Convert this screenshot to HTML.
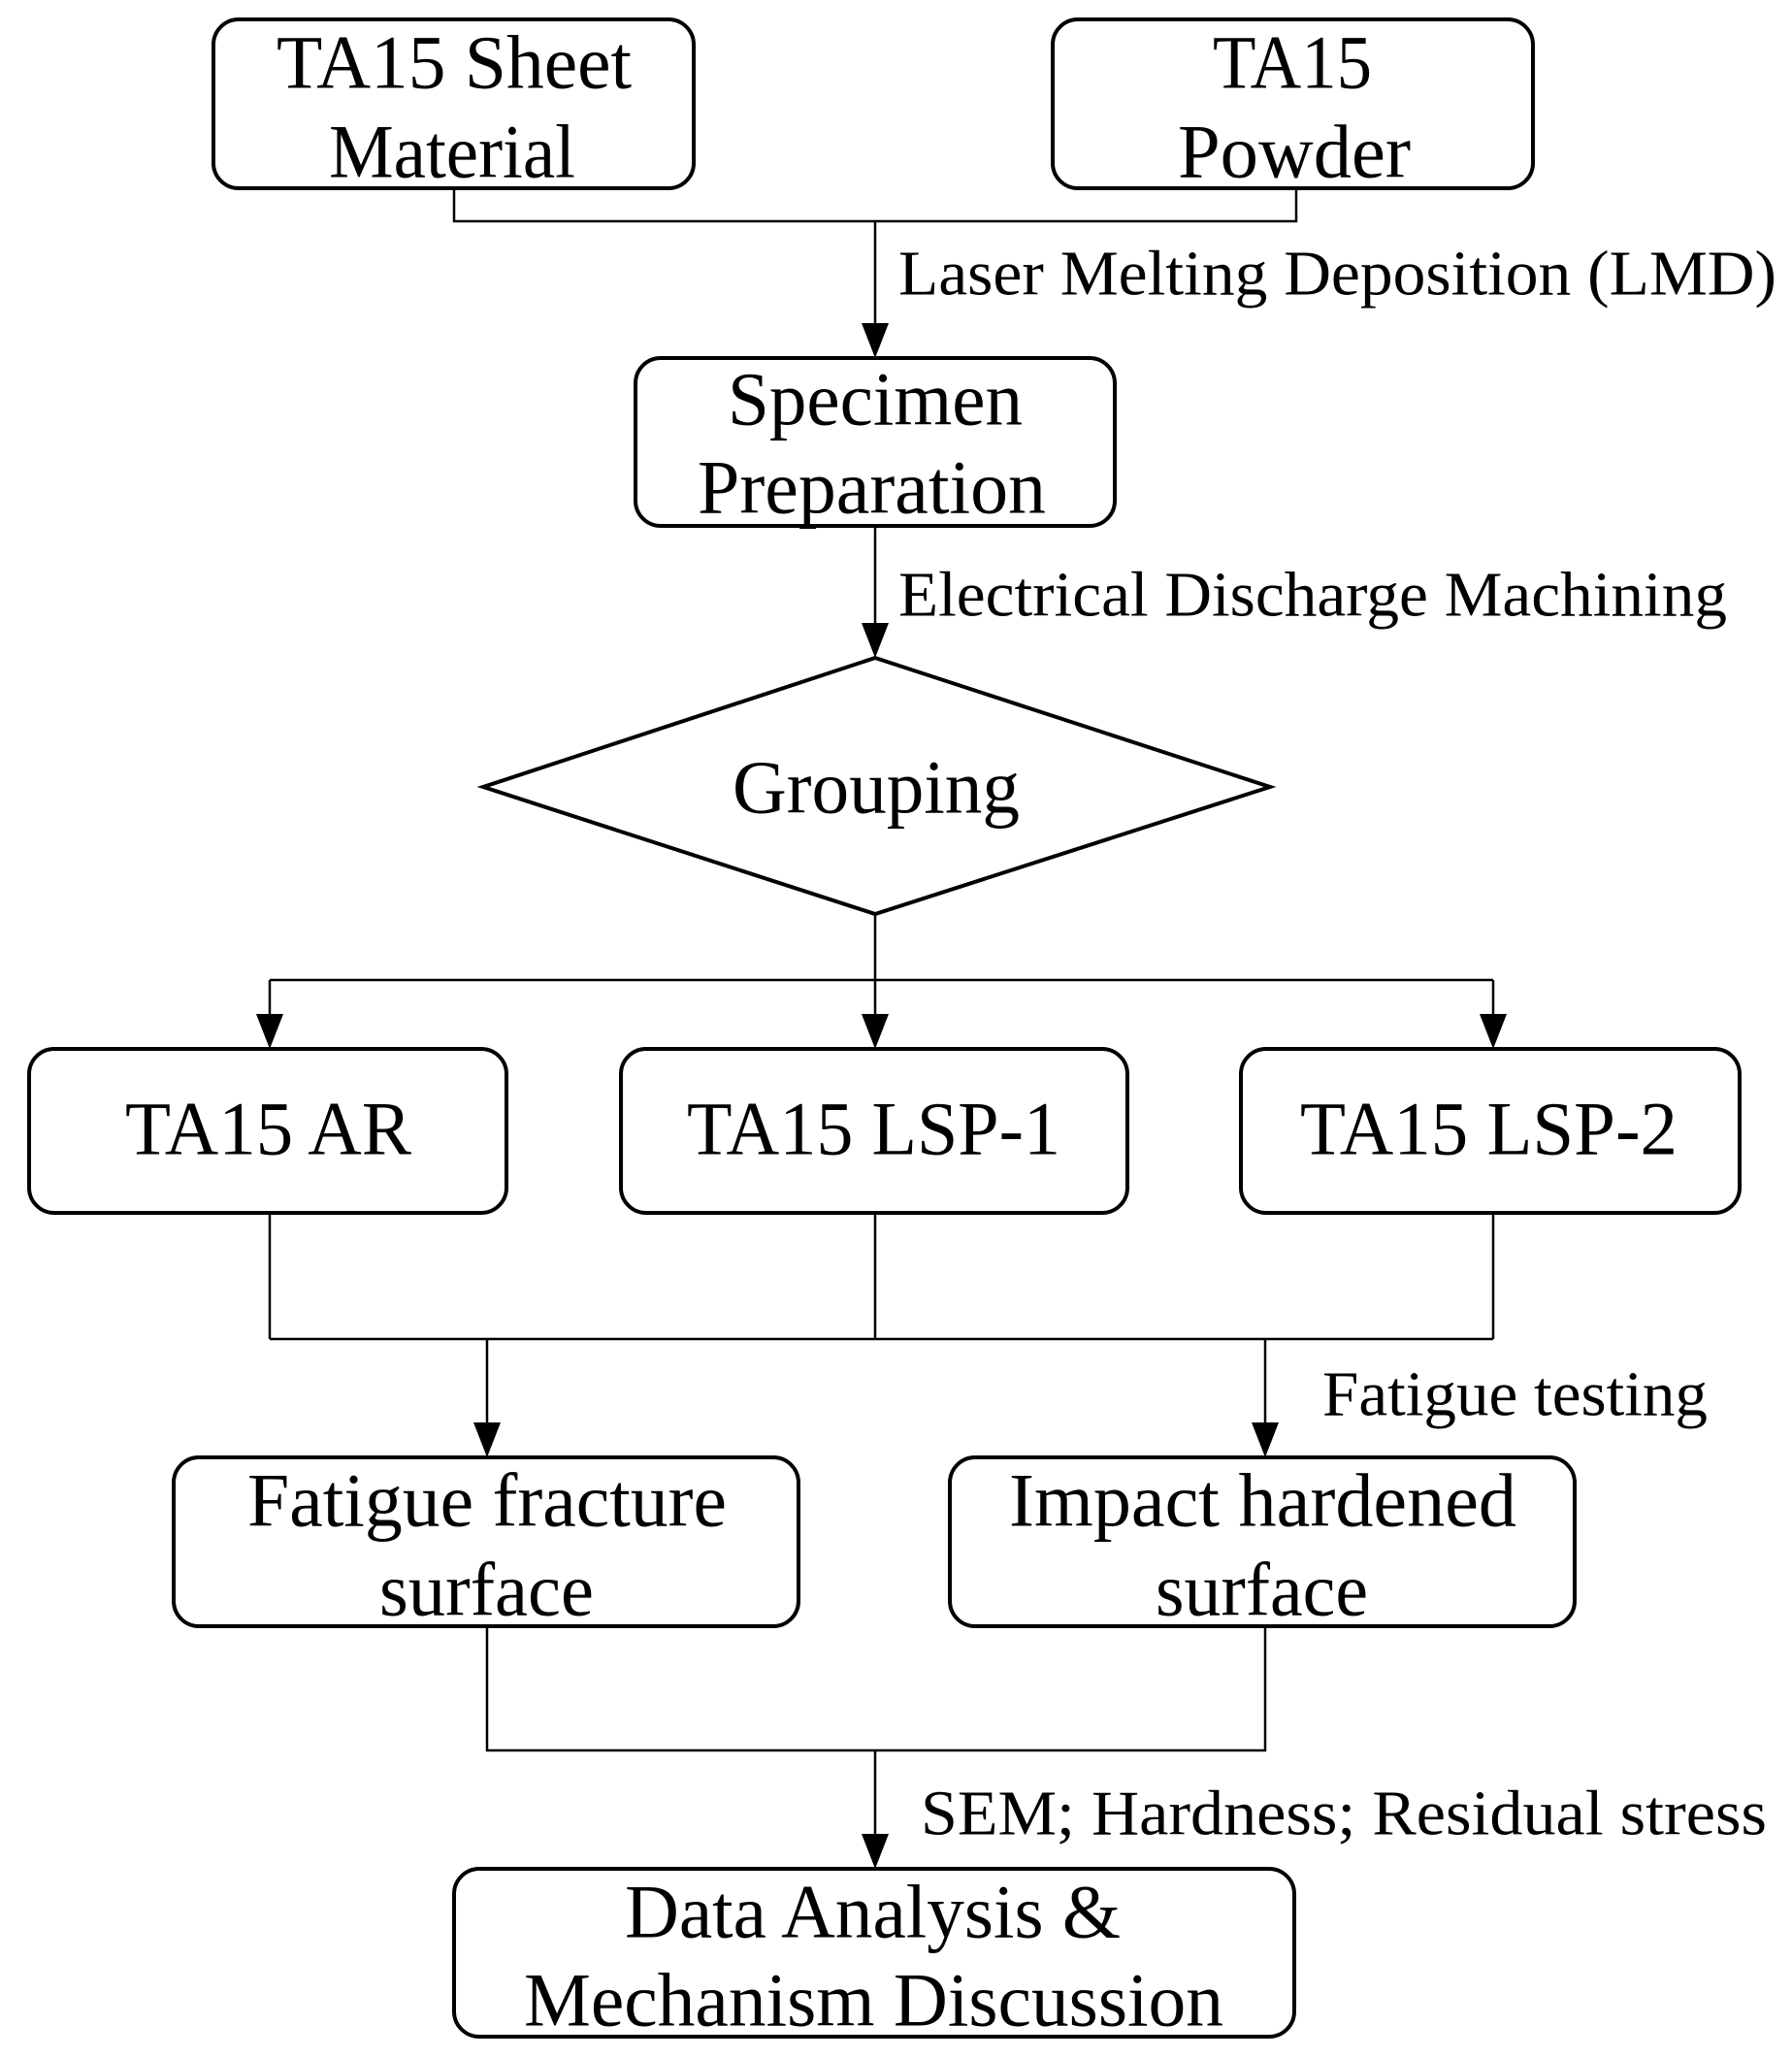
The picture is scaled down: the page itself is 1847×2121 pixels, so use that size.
<!DOCTYPE html>
<html><head><meta charset="utf-8"><style>html,body{margin:0;padding:0;background:#fff}svg{display:block}</style></head>
<body>
<svg width="1847" height="2121" viewBox="0 0 1847 2121" xmlns="http://www.w3.org/2000/svg" font-family="'Liberation Serif', serif" font-size="78" fill="#000">
<defs>
<marker id="a" markerWidth="12" markerHeight="14" refX="11" refY="7" orient="auto" markerUnits="userSpaceOnUse" viewBox="0 0 12 14"></marker>
</defs>
<g fill="none" stroke="#000" stroke-width="4">
<rect x="220" y="20" width="495" height="174" rx="26"/>
<rect x="1085" y="20" width="495" height="174" rx="26"/>
<rect x="655" y="369" width="494" height="173" rx="26"/>
<polygon points="902,678 1309,811 902,942 498,811"/>
<rect x="30" y="1081" width="492" height="169" rx="26"/>
<rect x="640" y="1081" width="522" height="169" rx="26"/>
<rect x="1279" y="1081" width="514" height="169" rx="26"/>
<rect x="179" y="1502" width="644" height="174" rx="26"/>
<rect x="979" y="1502" width="644" height="174" rx="26"/>
<rect x="468" y="1926" width="866" height="173" rx="26"/>
</g>
<g fill="none" stroke="#000" stroke-width="2.5">
<polyline points="468,194 468,228 1336,228 1336,194"/>
<line x1="902" y1="228" x2="902" y2="335"/>
<line x1="902" y1="542" x2="902" y2="644"/>
<line x1="902" y1="942" x2="902" y2="1047"/>
<line x1="278" y1="1010" x2="1539" y2="1010"/>
<line x1="278" y1="1010" x2="278" y2="1047"/>
<line x1="1539" y1="1010" x2="1539" y2="1047"/>
<line x1="278" y1="1250" x2="278" y2="1380"/>
<line x1="902" y1="1250" x2="902" y2="1380"/>
<line x1="1539" y1="1250" x2="1539" y2="1380"/>
<line x1="278" y1="1380" x2="1539" y2="1380"/>
<line x1="502" y1="1380" x2="502" y2="1468"/>
<line x1="1304" y1="1380" x2="1304" y2="1468"/>
<polyline points="502,1676 502,1804 1304,1804 1304,1676"/>
<line x1="902" y1="1804" x2="902" y2="1892"/>
</g>
<g fill="#000">
<polygon points="888,333 916,333 902,369"/>
<polygon points="888,642 916,642 902,678"/>
<polygon points="264,1045 292,1045 278,1081"/>
<polygon points="888,1045 916,1045 902,1081"/>
<polygon points="1525,1045 1553,1045 1539,1081"/>
<polygon points="488,1466 516,1466 502,1502"/>
<polygon points="1290,1466 1318,1466 1304,1502"/>
<polygon points="888,1890 916,1890 902,1926"/>
</g>
<g dominant-baseline="central" lengthAdjust="spacingAndGlyphs">
<text x="285" y="64" textLength="366" lengthAdjust="spacingAndGlyphs">TA15 Sheet</text>
<text x="339" y="156" textLength="254" lengthAdjust="spacingAndGlyphs">Material</text>
<text x="1250" y="64" textLength="164" lengthAdjust="spacingAndGlyphs">TA15</text>
<text x="1214" y="156" textLength="240" lengthAdjust="spacingAndGlyphs">Powder</text>
<text x="926" y="282" font-size="66" textLength="905" lengthAdjust="spacingAndGlyphs">Laser Melting Deposition (LMD)</text>
<text x="750" y="411" textLength="304" lengthAdjust="spacingAndGlyphs">Specimen</text>
<text x="719" y="502" textLength="359" lengthAdjust="spacingAndGlyphs">Preparation</text>
<text x="926" y="613" font-size="66" textLength="854" lengthAdjust="spacingAndGlyphs">Electrical Discharge Machining</text>
<text x="755" y="811" textLength="296" lengthAdjust="spacingAndGlyphs">Grouping</text>
<text x="129" y="1163" textLength="295" lengthAdjust="spacingAndGlyphs">TA15 AR</text>
<text x="708" y="1163" textLength="385" lengthAdjust="spacingAndGlyphs">TA15 LSP-1</text>
<text x="1340" y="1163" textLength="389" lengthAdjust="spacingAndGlyphs">TA15 LSP-2</text>
<text x="1363" y="1437" font-size="66" textLength="397" lengthAdjust="spacingAndGlyphs">Fatigue testing</text>
<text x="255" y="1546" textLength="494" lengthAdjust="spacingAndGlyphs">Fatigue fracture</text>
<text x="391" y="1638" textLength="221" lengthAdjust="spacingAndGlyphs">surface</text>
<text x="1040" y="1546" textLength="523" lengthAdjust="spacingAndGlyphs">Impact hardened</text>
<text x="1191" y="1638" textLength="219" lengthAdjust="spacingAndGlyphs">surface</text>
<text x="949" y="1869" font-size="66" textLength="872" lengthAdjust="spacingAndGlyphs">SEM; Hardness; Residual stress</text>
<text x="644" y="1970" textLength="511" lengthAdjust="spacingAndGlyphs">Data Analysis &amp;</text>
<text x="540" y="2061" textLength="721" lengthAdjust="spacingAndGlyphs">Mechanism Discussion</text>
</g>
</svg>
</body></html>
